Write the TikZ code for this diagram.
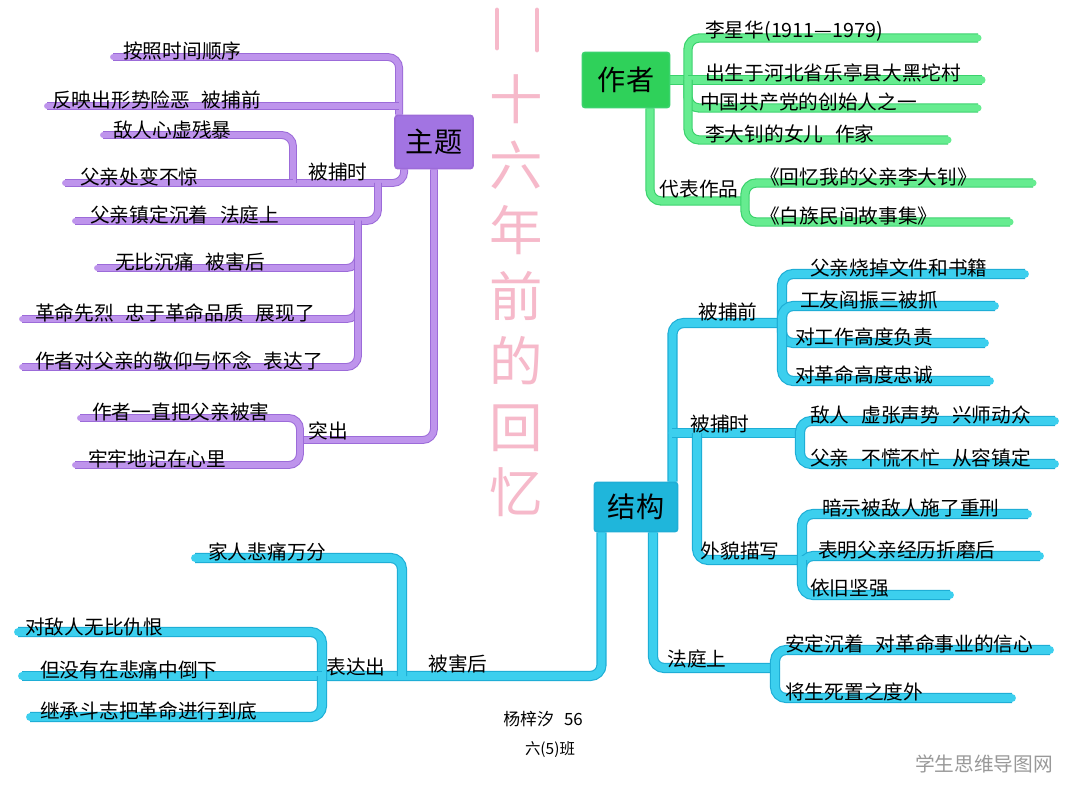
\documentclass[tikz,border=0pt]{standalone}
\usepackage{fontspec}
\newfontfamily\cjk{Noto Sans CJK SC}
\usetikzlibrary{
	calc,
	backgrounds,
}
\definecolor{ThemePurple}{HTML}{A274E2}
\definecolor{ThemeLine}{HTML}{BE94EC}
\definecolor{ThemeEdge}{HTML}{9C6BD9}
\definecolor{AuthorGreen}{HTML}{2FD15A}
\definecolor{AuthorLine}{HTML}{66EC90}
\definecolor{AuthorEdge}{HTML}{3AD26C}
\definecolor{StructBlue}{HTML}{1FB6DB}
\definecolor{StructLine}{HTML}{3CCFEE}
\definecolor{StructEdge}{HTML}{1EAED6}
\definecolor{TitlePink}{HTML}{F6B9CA}
\tikzset{every picture/.style={/utils/exec={\cjk}}}
\newcommand\gap{\hspace{0.6em}}

\begin{document}
\begin{tikzpicture} [
			x=0.025cm, y=-0.025cm,
			every node/.style={inner sep=0pt},
			leaf/.style={anchor=south west,font=\fontsize{14}{16}\selectfont},
			mid/.style={font=\fontsize{14}{16}\selectfont},
			topic/.style={draw,line width=1.2pt,rounded corners=2pt,font=\fontsize{20}{24}\selectfont},
			pline/.style={draw=ThemeLine,line width=4.2pt,line cap=round,line join=round,rounded corners=8pt,
				preaction={draw=ThemeEdge,line width=5.6pt}},
			gline/.style={draw=AuthorLine,line width=5pt,line cap=round,line join=round,rounded corners=8pt,
				preaction={draw=AuthorEdge,line width=6.6pt}},
			bline/.style={draw=StructLine,line width=5.6pt,line cap=round,line join=round,rounded corners=8pt,
				preaction={draw=StructEdge,line width=7.2pt}},
			titlestroke/.style={draw=TitlePink,line width=3.4pt,line cap=round}
		]
		\useasboundingbox (0,0) rectangle (1080,801);

		% title
		\node [align=center,text=TitlePink,font=\fontsize{38}{46.6}\selectfont] (title) at (516,296) {
			十\\六\\年\\前\\的\\回\\忆
		};

		% theme branch
		\node [topic,fill=ThemePurple,draw=ThemeEdge,minimum width=1.95cm,minimum height=1.33cm] (theme) at (434,142) {主题};
		\coordinate (theme-nw) at ($(theme.north west)+(5,0)$);
		\coordinate (seq-s) at (113,57);
		\node [leaf] (seq) at (123,60) {按照时间顺序};
		\coordinate (sit-s) at (47,106);
		\node [leaf] (sit) at (52,109) {反映出形势险恶\gap 被捕前};

		\node [mid] (arrest) at (338,172) {被捕时};
		\coordinate (arrest-j) at (293,183);
		\coordinate (enemy-s) at (103,135);
		\node [leaf] (enemy) at (113,139) {敌人心虚残暴};
		\coordinate (calm-s) at (65,183);
		\node [leaf] (calm) at (80,186) {父亲处变不惊};

		\coordinate (court-j) at (378,183);
		\coordinate (court-s) at (75,221);
		\node [leaf] (court) at (90,224) {父亲镇定沉着\gap 法庭上};
		\coordinate (kill-j) at (358,221);
		\coordinate (pain-s) at (97,268);
		\node [leaf] (pain) at (115,271) {无比沉痛\gap 被害后};
		\coordinate (show-s) at (22,319);
		\node [leaf] (show) at (35,322) {革命先烈\gap 忠于革命品质\gap 展现了};
		\coordinate (respect-s) at (22,367);
		\node [leaf] (respect) at (35,370) {作者对父亲的敬仰与怀念\gap 表达了};

		\node [mid] (stress) at (328,431) {突出};
		\coordinate (stress-j) at (300,440);
		\coordinate (keep-s) at (80,418);
		\node [leaf] (keep) at (92,421) {作者一直把父亲被害};
		\coordinate (heart-s) at (75,465);
		\node [leaf] (heart) at (88,468) {牢牢地记在心里};

		% author branch
		\node [topic,fill=AuthorGreen,draw=AuthorEdge,minimum width=2.18cm,minimum height=1.38cm] (author) at (626,80) {作者};
		\coordinate (author-j) at (688,80);
		\coordinate (life-e) at (978,38);
		\node [leaf] (life) at (705,42) {李星华(1911—1979)};
		\coordinate (born-e) at (982,80);
		\node [leaf] (born) at (705,82) {出生于河北省乐亭县大黑坨村};
		\coordinate (party-e) at (978,108);
		\node [leaf] (party) at (700,111) {中国共产党的创始人之一};
		\coordinate (daughter-e) at (948,140);
		\node [leaf] (daughter) at (705,143) {李大钊的女儿\gap 作家};

		\node [mid] (works) at (699,189) {代表作品};
		\coordinate (works-j) at (745,201);
		\coordinate (book-e) at (1033,183);
		\node [leaf] (book) at (760,186) {《回忆我的父亲李大钊》};
		\coordinate (tales-e) at (1010,222);
		\node [leaf] (tales) at (760,225) {《白族民间故事集》};

		% structure branch
		\node [topic,fill=StructBlue,draw=StructEdge,minimum width=2.08cm,minimum height=1.23cm] (struct) at (636,507) {结构};
		\coordinate (struct-up) at ($(struct.north east)+(-6,0)$);

		\node [mid] (before) at (728,312) {被捕前};
		\coordinate (before-j) at (782,323);
		\coordinate (burn-e) at (1025,274);
		\node [leaf] (burn) at (810,277) {父亲烧掉文件和书籍};
		\coordinate (worker-e) at (995,306);
		\node [leaf] (worker) at (800,309) {工友阎振三被抓};
		\coordinate (duty-e) at (985,343);
		\node [leaf] (duty) at (795,346) {对工作高度负责};
		\coordinate (loyal-e) at (990,381);
		\node [leaf] (loyal) at (795,384) {对革命高度忠诚};

		\node [mid] (during) at (720,424) {被捕时};
		\coordinate (during-j) at (800,433);
		\coordinate (bluff-e) at (1055,421);
		\node [leaf] (bluff) at (810,424) {敌人\gap 虚张声势\gap 兴师动众};
		\coordinate (steady-e) at (1055,464);
		\node [leaf] (steady) at (810,467) {父亲\gap 不慌不忙\gap 从容镇定};

		\node [mid] (looks) at (740,551) {外貌描写};
		\coordinate (looks-k) at (697,433);
		\coordinate (looks-j) at (802,560);
		\coordinate (torture-e) at (1028,514);
		\node [leaf] (torture) at (822,517) {暗示被敌人施了重刑};
		\coordinate (after-e) at (1040,556);
		\node [leaf] (after) at (818,559) {表明父亲经历折磨后};
		\coordinate (strong-e) at (950,595);
		\node [leaf] (strong) at (810,598) {依旧坚强};

		\node [mid] (trial) at (697,659) {法庭上};
		\coordinate (trial-j) at (775,668);
		\coordinate (faith-e) at (1050,650);
		\node [leaf] (faith) at (785,653) {安定沉着\gap 对革命事业的信心};
		\coordinate (death-e) at (1012,698);
		\node [leaf] (death) at (785,701) {将生死置之度外};

		\node [mid] (killed) at (458,664) {被害后};
		\coordinate (family-s) at (195,558);
		\node [leaf] (family) at (208,561) {家人悲痛万分};
		\coordinate (family-j) at (402,676);
		\node [mid] (express) at (356,667) {表达出};
		\coordinate (express-j) at (322,676);
		\coordinate (hate-s) at (18,632);
		\node [leaf] (hate) at (25,636) {对敌人无比仇恨};
		\coordinate (fall-s) at (22,676);
		\node [leaf] (fall) at (40,679) {但没有在悲痛中倒下};
		\coordinate (inherit-s) at (30,717);
		\node [leaf] (inherit) at (40,720) {继承斗志把革命进行到底};

		% signature and mark
		\node [font=\fontsize{12}{14}\selectfont] (name) at (543,719) {杨梓汐\gap 56};
		\node [font=\fontsize{11}{13}\selectfont] (class) at (550,750) {六(5)班};
		\node [font=\fontsize{14}{16}\selectfont,text=black!40] (mark) at (984,764) {学生思维导图网};

		\begin{scope}[on background layer]
			\fill[white] (0,0) rectangle (1080,801);
			\path[titlestroke] (497,10) -- (497,48);
			\path[titlestroke] (537,10) -- (537,50);

			\path[pline] (seq-s) -| (theme-nw);
			\path[pline] (sit-s) -- (sit-s -| theme-nw);
			\path[pline] (arrest-j) -| ($(theme.south west)+(10,0)$);
			\path[pline] (enemy-s) -| (arrest-j);
			\path[pline] (calm-s) -- (arrest-j);
			\path[pline] (court-s) -| (court-j);
			\path[pline] (pain-s) -| (kill-j);
			\path[pline] (show-s) -| (kill-j);
			\path[pline] (respect-s) -| (kill-j);
			\path[pline] (stress-j) -| (theme.south);
			\path[pline] (keep-s) -| (stress-j);
			\path[pline] (heart-s) -| (stress-j);

			\path[gline] (author.east) -- (author-j);
			\path[gline] (life-e) -| (author-j);
			\path[gline] (born-e) -- (author-j);
			\path[gline] (party-e) -| (author-j);
			\path[gline] (daughter-e) -| (author-j);
			\path[gline] (works-j) -| ($(author.south)+(24,0)$);
			\path[gline] (book-e) -| (works-j);
			\path[gline] (tales-e) -| (works-j);

			\path[bline] (before-j) -| (struct-up);
			\path[bline] (burn-e) -| (before-j);
			\path[bline] (worker-e) -| (before-j);
			\path[bline] (duty-e) -| (before-j);
			\path[bline] (loyal-e) -| (before-j);
			\path[bline] (during-j) -- (during-j -| struct-up);
			\path[bline] (bluff-e) -| (during-j);
			\path[bline] (steady-e) -| (during-j);
			\path[bline] (looks-j) -| (looks-k);
			\path[bline] (torture-e) -| (looks-j);
			\path[bline] (after-e) -| (looks-j);
			\path[bline] (strong-e) -| (looks-j);
			\path[bline] (trial-j) -| ($(struct.south)+(17,0)$);
			\path[bline] (faith-e) -| (trial-j);
			\path[bline] (death-e) -| (trial-j);
			\path[bline] (express-j) -| ($(struct.south west)+(8,0)$);
			\path[bline] (family-s) -| (family-j);
			\path[bline] (hate-s) -| (express-j);
			\path[bline] (fall-s) -- (express-j);
			\path[bline] (inherit-s) -| (express-j);
		\end{scope}
	\end{tikzpicture}
\end{document}
